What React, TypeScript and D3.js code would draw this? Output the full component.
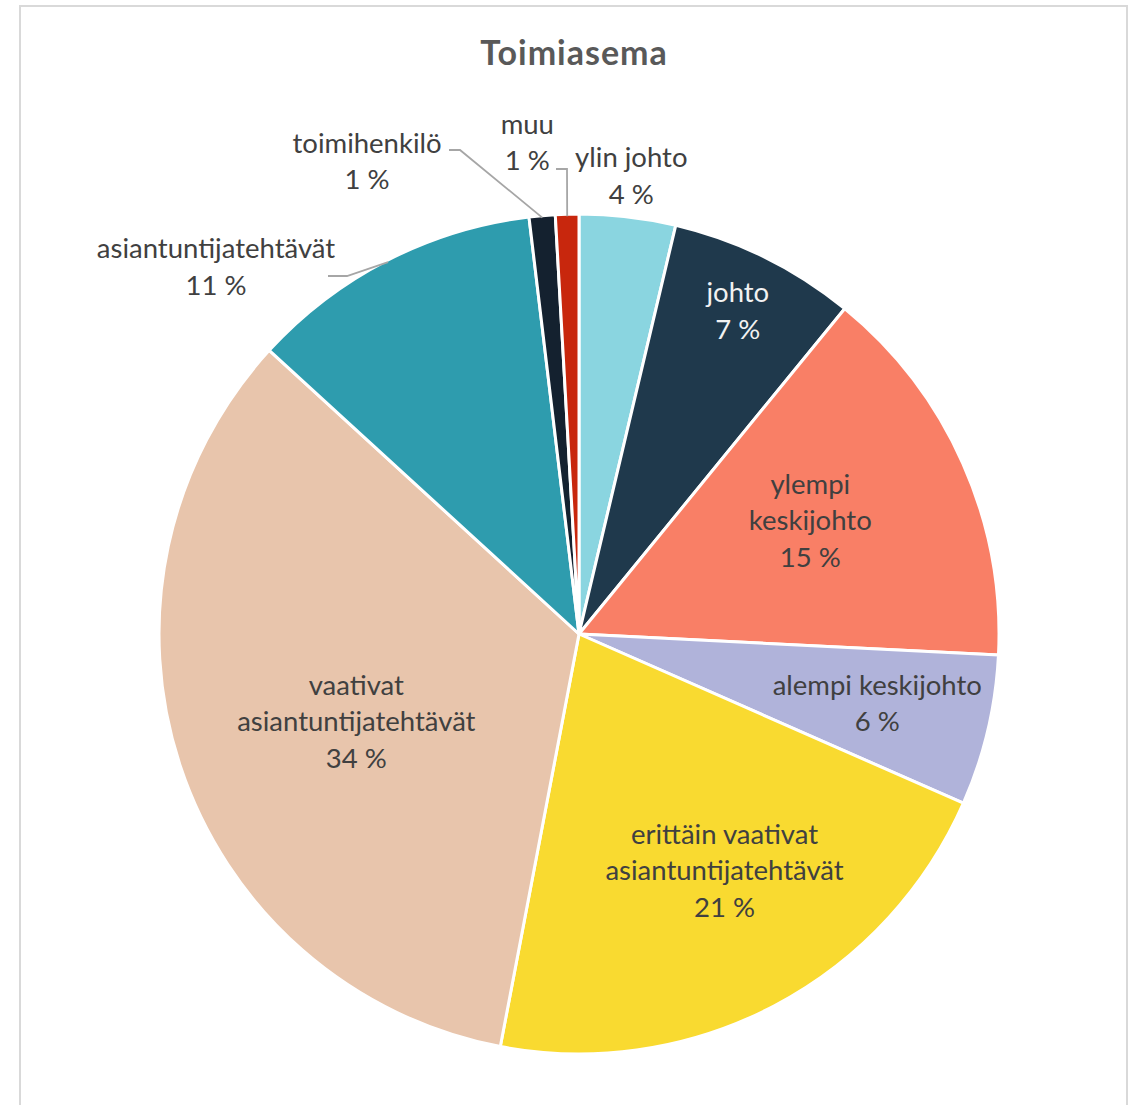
import React from "react";
import * as d3 from "d3";

const categories = [
  "ylin johto",
  "johto",
  "ylempi keskijohto",
  "alempi keskijohto",
  "erittäin vaativat asiantuntijatehtävät",
  "vaativat asiantuntijatehtävät",
  "asiantuntijatehtävät",
  "toimihenkilö",
  "muu",
];
const values = [3.7, 7.2, 14.9, 5.8, 21.4, 33.8, 11.3, 1.0, 0.9];
const percentLabels = ["4 %", "7 %", "15 %", "6 %", "21 %", "34 %", "11 %", "1 %", "1 %"];
const labelLines = [
  ["ylin johto"],
  ["johto"],
  ["ylempi", "keskijohto"],
  ["alempi keskijohto"],
  ["erittäin vaativat", "asiantuntijatehtävät"],
  ["vaativat", "asiantuntijatehtävät"],
  ["asiantuntijatehtävät"],
  ["toimihenkilö"],
  ["muu"],
];
const colors = ["#8ad5e0", "#1f394c", "#f97f66", "#b0b3da", "#f9da30", "#e8c5ac", "#2e9cae", "#14212f", "#c8270d"];
const textColors = ["#404040", "#f2f2f2", "#404040", "#404040", "#404040", "#404040", "#404040", "#404040", "#404040"];

// layout: label polar position [angle in degrees clockwise from top, distance in px]
const labelPolar: [number, number][] = [
  [6.5, 462],
  [26.1, 361],
  [63.7, 258],
  [102.9, 306],
  [148.3, 277],
  [248.7, 239],
  [315.4, 517],
  [335.9, 519],
  [-6.0, 495],
];
// leader geometry offsets from pie center
const leaders: Record<number, { elbow: [number, number]; edge: [number, number] }> = {
  6: { elbow: [-232, -358], edge: [-251, -358] },
  7: { elbow: [-119, -484], edge: [-130, -484] },
  8: { elbow: [-12, -465], edge: [-23, -465] },
};

const W = 1132;
const H = 1105;
const cx = 579;
const cy = 634;
const R = 420;
const FONT = "Lato, 'Open Sans', sans-serif";
const FS = 27.5;
const LH = 36.5;

export default function App() {
  const pie = d3
    .pie<number>()
    .sort(null)
    .value((d) => d)
    .startAngle(0)
    .endAngle(2 * Math.PI);
  const arcs = pie(values);
  const arc = d3.arc<d3.PieArcDatum<number>>().innerRadius(0).outerRadius(R);

  return (
    <div style={{ position: "absolute", left: 0, top: 0 }}>
      <svg width={W} height={H} style={{ display: "block", background: "#fff" }}>
        <rect x={20} y={6} width={1107} height={1110} fill="#fff" stroke="#d9d9d9" strokeWidth={2} />
        <text x={574} y={51} textAnchor="middle" dominantBaseline="central" fontFamily={FONT} fontWeight="bold" fontSize={34} letterSpacing={1} fill="#595959">
          Toimiasema
        </text>
        <g transform={`translate(${cx},${cy})`}>
          {arcs.map((a, i) => (
            <path key={categories[i]} d={arc(a) || ""} fill={colors[i]} stroke="#fff" strokeWidth={3} strokeLinejoin="round" />
          ))}
          {arcs.map((a, i) => {
            const L = leaders[i];
            if (!L) return null;
            const mid = (a.startAngle + a.endAngle) / 2;
            const px = Math.sin(mid) * (R - 2);
            const py = -Math.cos(mid) * (R - 2);
            return (
              <polyline
                key={"l" + i}
                points={`${L.edge[0]},${L.edge[1]} ${L.elbow[0]},${L.elbow[1]} ${px},${py}`}
                fill="none"
                stroke="#a6a6a6"
                strokeWidth={1.8}
              />
            );
          })}
          {arcs.map((a, i) => {
            const [deg, dist] = labelPolar[i];
            const ang = (deg * Math.PI) / 180;
            const x = Math.sin(ang) * dist;
            const y = -Math.cos(ang) * dist;
            const lines = [...labelLines[i], percentLabels[i]];
            const y0 = y - ((lines.length - 1) * LH) / 2;
            return (
              <text key={"t" + i} textAnchor="middle" fontFamily={FONT} fontSize={FS} fill={textColors[i]}>
                {lines.map((ln, j) => (
                  <tspan key={j} x={x} y={y0 + j * LH} dominantBaseline="central">
                    {ln}
                  </tspan>
                ))}
              </text>
            );
          })}
        </g>
      </svg>
    </div>
  );
}
